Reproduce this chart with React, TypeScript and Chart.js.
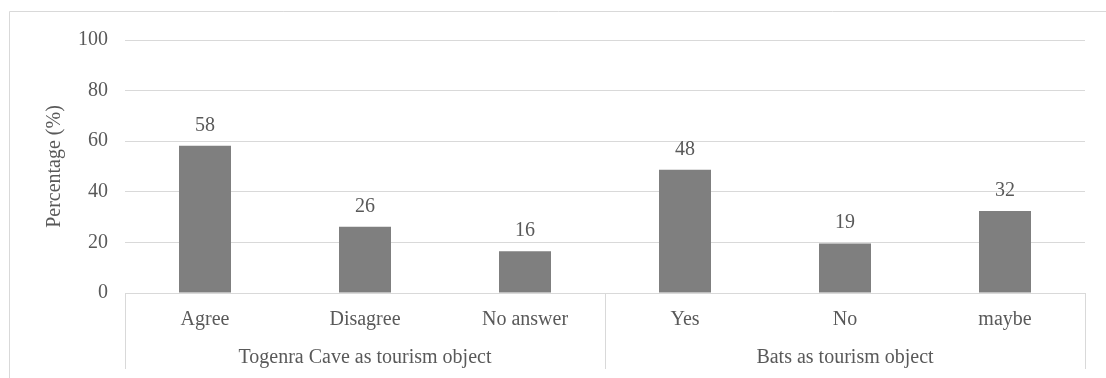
import React, { useEffect, useRef } from "react";
import { Chart, registerables } from "chart.js";

Chart.register(...registerables);

const categories = ["Agree", "Disagree", "No answer", "Yes", "No", "maybe"];
const values = [58.2, 26.2, 16.5, 48.7, 19.6, 32.4];
const valueLabels = ["58", "26", "16", "48", "19", "32"];
const groupNames = ["Togenra Cave as tourism object", "Bats as tourism object"];
const groupSizes = [3, 3];
const yTicks = [0, 20, 40, 60, 80, 100];
const yTitle = "Percentage (%)";

const FONT = "'Liberation Serif', 'Times New Roman', serif";
const TEXT = "#595959";
const LINE = "#d9d9d9";

const overlay = {
  id: "overlay",
  afterDraw(chart: any) {
    const ctx = chart.ctx;
    const area = chart.chartArea;
    const x = chart.scales.x;
    ctx.save();
    // outer border
    ctx.strokeStyle = LINE;
    ctx.lineWidth = 1;
    ctx.beginPath();
    ctx.moveTo(9.5, 400);
    ctx.lineTo(9.5, 11.5);
    ctx.lineTo(1200, 11.5);
    ctx.stroke();

    // data labels
    const meta = chart.getDatasetMeta(0);
    ctx.fillStyle = TEXT;
    ctx.font = `20px ${FONT}`;
    ctx.textAlign = "center";
    ctx.textBaseline = "alphabetic";
    meta.data.forEach((el: any, i: number) => {
      ctx.fillText(valueLabels[i], el.x, el.y - 15);
    });

    // category labels
    categories.forEach((c, i) => {
      ctx.fillText(c, x.getPixelForValue(i), 325);
    });

    // group separators and labels
    const step = (area.right - area.left) / categories.length;
    let start = 0;
    const edges: number[] = [area.left];
    groupSizes.forEach((n, g) => {
      const x0 = area.left + start * step;
      const x1 = area.left + (start + n) * step;
      edges.push(x1);
      ctx.fillText(groupNames[g], (x0 + x1) / 2, 363);
      start += n;
    });
    ctx.strokeStyle = LINE;
    edges.forEach((ex) => {
      const px = Math.round(ex) + 0.5;
      ctx.beginPath();
      ctx.moveTo(px, area.bottom);
      ctx.lineTo(px, 369);
      ctx.stroke();
    });

    // y title
    ctx.translate(55, (area.top + area.bottom) / 2);
    ctx.rotate(-Math.PI / 2);
    ctx.textBaseline = "middle";
    ctx.fillText(yTitle, 0, 0);
    ctx.restore();
  },
};

export default function App() {
  const ref = useRef<HTMLCanvasElement>(null);
  useEffect(() => {
    document.body.style.margin = "0";
    const chart = new Chart(ref.current!, {
      type: "bar",
      data: {
        labels: categories,
        datasets: [
          {
            data: values,
            backgroundColor: "#7f7f7f",
            borderWidth: 0,
            barPercentage: 0.325,
            categoryPercentage: 1,
          },
        ],
      },
      options: {
        animation: false,
        responsive: false,
        maintainAspectRatio: false,
        layout: { padding: { left: 0, right: 21, top: 40, bottom: 0 } },
        plugins: { legend: { display: false }, tooltip: { enabled: false } },
        scales: {
          x: {
            ticks: { display: false },
            grid: { display: false },
            border: { display: true, color: LINE, width: 1 },
            afterFit: (s: any) => {
              s.height = 85;
            },
          },
          y: {
            min: 0,
            max: 100,
            afterBuildTicks: (s: any) => {
              s.ticks = yTicks.map((v) => ({ value: v }));
            },
            ticks: {
              color: TEXT,
              font: { family: FONT, size: 20 },
              padding: 17,
            },
            grid: { color: LINE, drawTicks: false, lineWidth: 1 },
            border: { display: false },
            afterFit: (s: any) => {
              s.width = 125;
            },
          },
        },
      },
      plugins: [overlay],
    });
    return () => chart.destroy();
  }, []);
  return (
    <div style={{ width: 1106, height: 378 }}>
      <canvas ref={ref} width={1106} height={378} style={{ display: "block" }} />
    </div>
  );
}
